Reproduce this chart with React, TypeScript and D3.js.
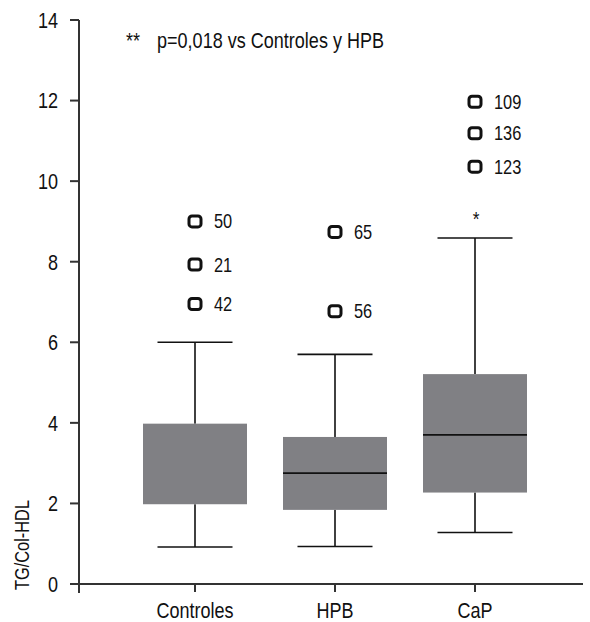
import * as d3 from "d3";
import type { ReactNode } from "react";

const categories = ["Controles", "HPB", "CaP"];
const q1 = [1.98, 1.84, 2.27];
const medians: (number | null)[] = [null, 2.75, 3.7];
const q3 = [3.98, 3.65, 5.21];
const whiskerLow = [0.92, 0.93, 1.28];
const whiskerHigh = [6.0, 5.7, 8.59];

const outlierGroup = ["Controles", "Controles", "Controles", "HPB", "HPB", "CaP", "CaP", "CaP"];
const outlierValue = [9.0, 7.93, 6.95, 8.74, 6.77, 11.97, 11.19, 10.36];
const outlierLabel = ["50", "21", "42", "65", "56", "109", "136", "123"];

const yTicks = [0, 2, 4, 6, 8, 10, 12, 14];
const note = "p=0,018 vs Controles y HPB";
const yTitle = "TG/Col-HDL";

const FONT = "'Liberation Sans', Arial, sans-serif";
const SQUEEZE = 0.82; // la fuente original es condensada

const W = 590;
const H = 622;

// texto estrecho: se comprime en horizontal alrededor del punto de anclaje
function NarrowText(props: {
  x: number;
  y: number;
  size: number;
  anchor?: "start" | "middle" | "end";
  dy?: string;
  rotate?: number;
  children: ReactNode;
}) {
  const { x, y, size, anchor = "start", dy, rotate = 0, children } = props;
  return (
    <text
      transform={`translate(${x},${y}) rotate(${rotate}) scale(${SQUEEZE},1)`}
      textAnchor={anchor}
      dy={dy}
      fontSize={size}
      fill="#111"
    >
      {children}
    </text>
  );
}

export default function App() {
  // escalas
  const y = d3.scaleLinear().domain([0, 14]).range([584, 20]);
  const x = d3.scalePoint<string>().domain(categories).range([195, 475]);

  const axisX = 79;
  const axisY = y(0);
  const boxW = 104;
  const capW = 75;

  return (
    <svg
      width={W}
      height={H}
      style={{ position: "absolute", left: 0, top: 0, background: "#fff" }}
      fontFamily={FONT}
    >
      {/* cajas */}
      {categories.map((c, i) => {
        const cx = x(c)!;
        return (
          <g key={c}>
            <line x1={cx} x2={cx} y1={y(whiskerHigh[i])} y2={y(q3[i])} stroke="#111" strokeWidth={1.6} />
            <line x1={cx} x2={cx} y1={y(q1[i])} y2={y(whiskerLow[i])} stroke="#111" strokeWidth={1.6} />
            <line x1={cx - capW / 2} x2={cx + capW / 2} y1={y(whiskerHigh[i])} y2={y(whiskerHigh[i])} stroke="#111" strokeWidth={1.6} />
            <line x1={cx - capW / 2} x2={cx + capW / 2} y1={y(whiskerLow[i])} y2={y(whiskerLow[i])} stroke="#111" strokeWidth={1.6} />
            <rect x={cx - boxW / 2} y={y(q3[i])} width={boxW} height={y(q1[i]) - y(q3[i])} fill="#808084" />
            {medians[i] !== null && (
              <line x1={cx - boxW / 2} x2={cx + boxW / 2} y1={y(medians[i]!)} y2={y(medians[i]!)} stroke="#111" strokeWidth={1.8} />
            )}
          </g>
        );
      })}

      {/* valores atipicos */}
      {outlierValue.map((v, i) => {
        const cx = x(outlierGroup[i])!;
        const cy = y(v);
        return (
          <g key={i}>
            <rect x={cx - 6} y={cy - 5.5} width={12} height={11} rx={3} fill="none" stroke="#111" strokeWidth={3} />
            <NarrowText x={cx + 19} y={cy} dy="0.35em" size={20}>
              {outlierLabel[i]}
            </NarrowText>
          </g>
        );
      })}

      <NarrowText x={x("CaP")! + 1} y={226} size={21} anchor="middle">*</NarrowText>

      {/* ejes */}
      <line x1={70} x2={583} y1={axisY} y2={axisY} stroke="#333" strokeWidth={2} />
      <line x1={axisX} x2={axisX} y1={y(14)} y2={593} stroke="#333" strokeWidth={2} />
      {yTicks.map((t) => (
        <g key={t}>
          <line x1={70} x2={axisX} y1={y(t)} y2={y(t)} stroke="#333" strokeWidth={2} />
          <NarrowText x={58} y={y(t)} dy="0.36em" anchor="end" size={22}>
            {t}
          </NarrowText>
        </g>
      ))}
      {categories.map((c) => (
        <g key={c}>
          <line x1={x(c)!} x2={x(c)!} y1={axisY} y2={592} stroke="#333" strokeWidth={2} />
          <NarrowText x={x(c)!} y={618} anchor="middle" size={22}>
            {c}
          </NarrowText>
        </g>
      ))}

      <NarrowText x={29} y={545} rotate={-90} anchor="middle" size={20}>
        {yTitle}
      </NarrowText>

      <NarrowText x={126} y={48} size={22}>**</NarrowText>
      <NarrowText x={157} y={48} size={22}>{note}</NarrowText>
    </svg>
  );
}
